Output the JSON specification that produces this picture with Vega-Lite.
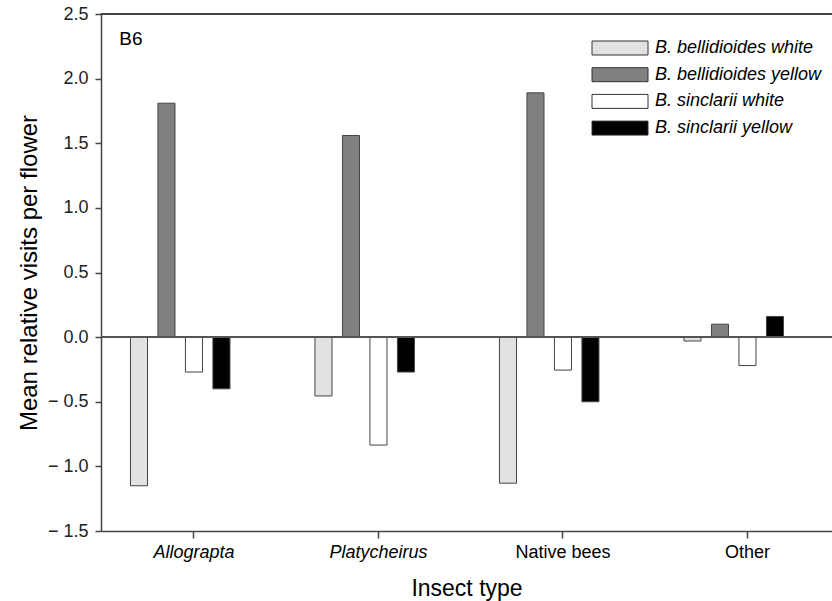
{
  "$schema": "https://vega.github.io/schema/vega-lite/v6.json",
  "width": 731,
  "height": 517,
  "autosize": {"type": "none"},
  "padding": {"left": 101, "top": 14, "right": 0, "bottom": 70},
  "background": "white",
  "config": {"font": "Liberation Sans", "view": {"stroke": null}},
  "data": {"values": [
    {"insect": "Allograpta", "species": "B. bellidioides white", "value": -1.15},
    {"insect": "Allograpta", "species": "B. bellidioides yellow", "value": 1.81},
    {"insect": "Allograpta", "species": "B. sinclarii white", "value": -0.27},
    {"insect": "Allograpta", "species": "B. sinclarii yellow", "value": -0.40},
    {"insect": "Platycheirus", "species": "B. bellidioides white", "value": -0.455},
    {"insect": "Platycheirus", "species": "B. bellidioides yellow", "value": 1.56},
    {"insect": "Platycheirus", "species": "B. sinclarii white", "value": -0.835},
    {"insect": "Platycheirus", "species": "B. sinclarii yellow", "value": -0.27},
    {"insect": "Native bees", "species": "B. bellidioides white", "value": -1.13},
    {"insect": "Native bees", "species": "B. bellidioides yellow", "value": 1.89},
    {"insect": "Native bees", "species": "B. sinclarii white", "value": -0.255},
    {"insect": "Native bees", "species": "B. sinclarii yellow", "value": -0.50},
    {"insect": "Other", "species": "B. bellidioides white", "value": -0.03},
    {"insect": "Other", "species": "B. bellidioides yellow", "value": 0.10},
    {"insect": "Other", "species": "B. sinclarii white", "value": -0.22},
    {"insect": "Other", "species": "B. sinclarii yellow", "value": 0.16}
  ]},
  "layer": [
    {
      "mark": {"type": "bar", "stroke": "#444", "strokeWidth": 1},
      "encoding": {
        "x": {
          "field": "insect", "type": "nominal",
          "sort": ["Allograpta", "Platycheirus", "Native bees", "Other"],
          "scale": {"paddingInner": 0.255, "paddingOuter": 0.1085, "align": 0.605},
          "axis": {
            "title": "Insect type", "titleFontSize": 23, "titleFontWeight": "normal", "titlePadding": 16, "titleColor": "#000",
            "labelFontSize": 18, "labelAngle": 0, "labelPadding": 5, "labelColor": "#000",
            "labelFontStyle": {"condition": {"test": "datum.value === 'Allograpta' || datum.value === 'Platycheirus'", "value": "italic"}, "value": "normal"},
            "tickSize": 7, "tickColor": "#444", "tickWidth": 1.5,
            "domainColor": "#444", "domainWidth": 1.5, "grid": false
          }
        },
        "xOffset": {
          "field": "species", "type": "nominal",
          "scale": {"domain": ["B. bellidioides white", "B. bellidioides yellow", "B. sinclarii white", "B. sinclarii yellow", "pad"], "paddingInner": 0.38, "paddingOuter": 0.19}
        },
        "y": {
          "field": "value", "type": "quantitative",
          "scale": {"domain": [-1.5, 2.5], "nice": false, "zero": false},
          "axis": {
            "title": "Mean relative visits per flower", "titleFontSize": 24, "titleFontWeight": "normal", "titlePadding": 6, "titleColor": "#000",
            "values": [-1.5, -1, -0.5, 0, 0.5, 1, 1.5, 2, 2.5],
            "labelExpr": "datum.value < 0 ? '\u2212 ' + format(-datum.value, '.1f') : format(datum.value, '.1f')",
            "labelFontSize": 18, "labelPadding": 7, "labelColor": "#222",
            "tickSize": 6, "tickColor": "#444", "tickWidth": 1.5,
            "domainColor": "#444", "domainWidth": 1.5, "grid": false
          }
        },
        "fill": {
          "field": "species", "type": "nominal",
          "scale": {"domain": ["B. bellidioides white", "B. bellidioides yellow", "B. sinclarii white", "B. sinclarii yellow"], "range": ["#e2e2e2", "#808080", "#ffffff", "#000000"]},
          "legend": {
            "title": null, "orient": "none", "legendX": 510, "legendY": 25, "padding": 0,
            "symbolType": "M-4,-1H4V1H-4Z", "symbolSize": 196,
            "symbolStrokeColor": "#333", "symbolStrokeWidth": 1, "symbolOpacity": 1,
            "labelFontSize": 18, "labelFontStyle": "italic", "labelOffset": 26, "labelColor": "#000",
            "rowPadding": 8.7, "labelLimit": 300
          }
        }
      }
    },
    {"mark": {"type": "rule", "color": "#555", "strokeWidth": 1.5}, "encoding": {"y": {"datum": 0}}},
    {"mark": {"type": "rule", "color": "#444", "strokeWidth": 1.5}, "encoding": {"y": {"datum": 2.5}}},
    {
      "data": {"values": [{"label": "B6"}]},
      "mark": {"type": "text", "fontSize": 19, "align": "center", "baseline": "alphabetic", "dx": -8, "color": "#000"},
      "encoding": {
        "text": {"field": "label"},
        "x": {"datum": "Allograpta"},
        "xOffset": {"datum": "B. bellidioides white"},
        "y": {"datum": 2.26}
      }
    }
  ]
}
